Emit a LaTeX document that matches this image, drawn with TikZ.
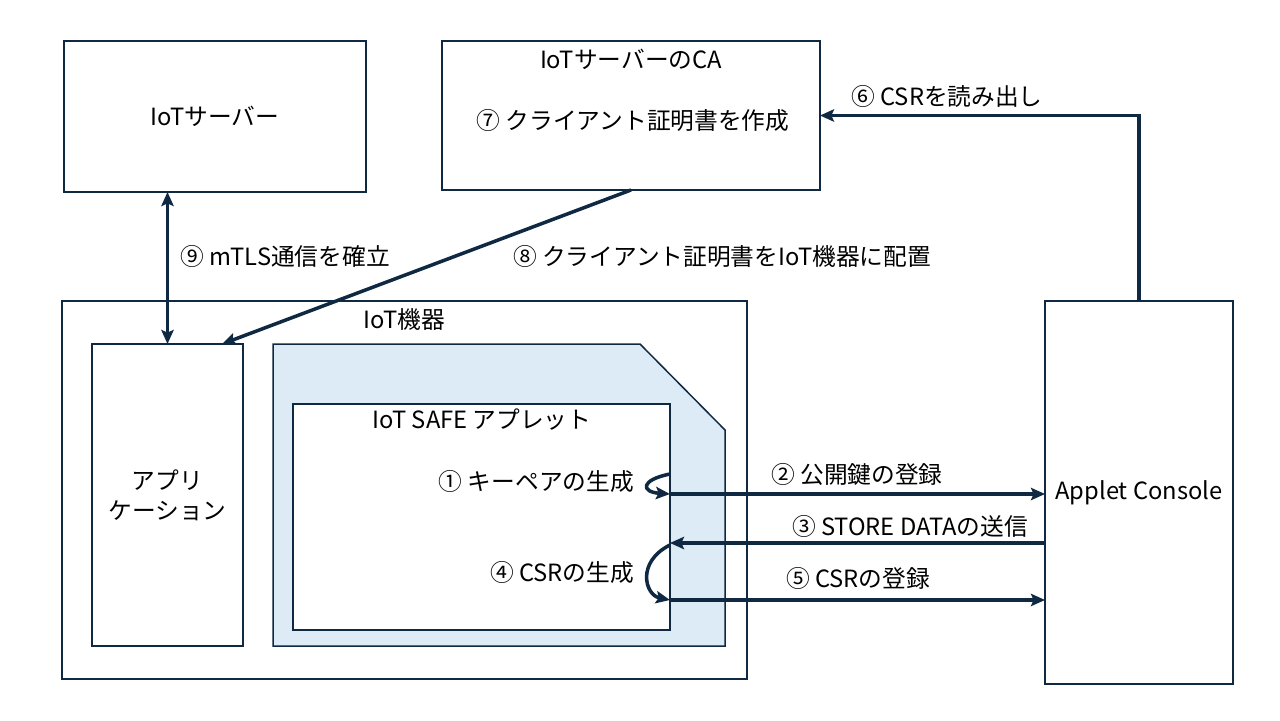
\documentclass[tikz,border=0pt]{standalone}
\usepackage{fontspec}
\setmainfont{Noto Sans CJK JP}
\usepackage{tikz}
\usetikzlibrary{arrows.meta, positioning, calc}
\definecolor{konIro}{RGB}{16,41,66}
\definecolor{mizuIro}{RGB}{221,235,247}

\begin{document}
\begin{tikzpicture}[
  x=0.02cm, y=-0.02cm,
  hako/.style={draw=konIro, line width=0.85pt, inner sep=0pt, outer sep=0pt,
    align=center, font=\fontsize{13.5}{17}\selectfont},
  moji/.style={font=\fontsize{13.5}{17}\selectfont, inner sep=1pt},
  yajirushi/.style={-{Stealth[length=8pt, width=7pt, inset=1.5pt]}, line width=2pt, draw=konIro},
  ryouhou/.style={{Stealth[length=8pt, width=7pt, inset=1.5pt]}-{Stealth[length=8pt, width=7pt, inset=1.5pt]},
    line width=2pt, draw=konIro}
]
  \useasboundingbox (0,0) rectangle (1280,720);

  % upper boxes
  \node[hako, minimum width=6.04cm, minimum height=3.02cm] (server) at (215,116.5) {IoTサーバー};
  \node[hako, minimum width=7.56cm, minimum height=2.98cm] (ca) at (631,115.5) {};
  \node[moji] (caTitle) at (631,59) {IoTサーバーのCA};
  \node[moji] (caSaku) at (633,120) {⑦ クライアント証明書を作成};

  % IoT device
  \node[hako, minimum width=13.7cm, minimum height=7.56cm] (kiki) at (404.5,490) {};
  \node[moji] (kikiTitle) at (404,320) {IoT機器};
  \node[hako, minimum width=3.02cm, minimum height=6.04cm] (app) at (167.5,495) {アプリ\\ケーション};

  % SIM
  \draw[konIro, line width=0.85pt, fill=mizuIro]
    (273,344) -- (640,344) -- (725,430) -- (725,646) -- (273,646) -- cycle;
  \node[hako, fill=white, minimum width=7.54cm, minimum height=4.52cm] (applet) at (481.5,517) {};
  \node[moji] (appletTitle) at (482,420) {IoT SAFE アプレット};
  \node[moji, anchor=east] (kagi) at (636,481) {① キーペアの生成};
  \node[moji, anchor=east] (csrSei) at (636,572) {④ CSRの生成};

  % console
  \node[hako, minimum width=3.76cm, minimum height=7.66cm] (console) at (1139,492.5) {Applet Console};

  % connectors
  \coordinate (p2) at ([yshift=0.46cm]applet.east);
  \coordinate (p3) at ([yshift=-0.52cm]applet.east);
  \coordinate (p5) at ([yshift=-1.66cm]applet.east);

  \draw[yajirushi] ([yshift=0.86cm]applet.east) .. controls (640,480) and (641,492) .. (p2);
  \draw[yajirushi] ([yshift=-0.56cm]applet.east) .. controls (636,562) and (645,595) .. (p5);

  \draw[yajirushi] (p2) -- (console.west |- p2);
  \draw[yajirushi] (console.west |- p3) -- (p3);
  \draw[yajirushi] (p5) -- (console.west |- p5);
  \draw[yajirushi] (console.north) |- (ca.east);
  \draw[ryouhou] (server.south -| app.north) -- (app.north);
  \draw[yajirushi] (ca.south) -- ([xshift=-0.42cm]app.north east);

  % labels
  \node[moji] (l2) at (857,474) {② 公開鍵の登録};
  \node[moji] (l3) at (910,526) {③ STORE DATAの送信};
  \node[moji] (l5) at (858,578) {⑤ CSRの登録};
  \node[moji] (l6) at (947,96) {⑥ CSRを読み出し};
  \node[moji] (l8) at (722,256) {⑧ クライアント証明書をIoT機器に配置};
  \node[moji] (l9) at (285,256) {⑨ mTLS通信を確立};
\end{tikzpicture}
\end{document}
